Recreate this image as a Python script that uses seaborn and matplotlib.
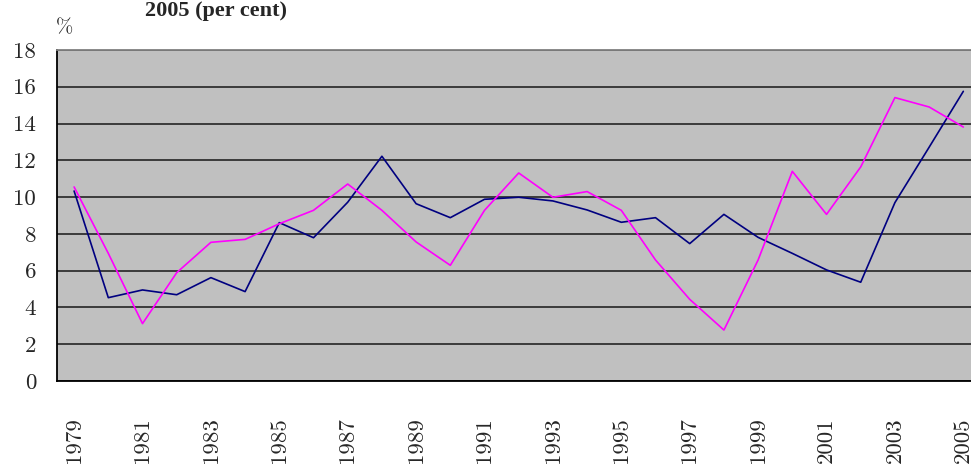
import matplotlib
matplotlib.use('Agg')
import matplotlib.pyplot as plt
import pandas as pd
import seaborn as sns
from matplotlib.ticker import FixedLocator

years = list(range(1979, 2006))
navy_values = [10.33, 4.53, 4.95, 4.69, 5.62, 4.86, 8.61, 7.79, 9.72, 12.22,
               9.64, 8.88, 9.88, 9.99, 9.79, 9.30, 8.63, 8.88, 7.47, 9.06,
               7.81, 6.94, 6.04, 5.37, 9.70, 12.71, 15.75]
magenta_values = [10.55, 6.94, 3.12, 5.89, 7.54, 7.70, 8.55, 9.28, 10.71, 9.28,
                  7.56, 6.29, 9.28, 11.31, 9.99, 10.30, 9.28, 6.58, 4.44, 2.77,
                  6.58, 11.40, 9.06, 11.64, 15.41, 14.90, 13.81]
y_ticks = [0, 2, 4, 6, 8, 10, 12, 14, 16, 18]
x_labels = [y for y in years if y % 2 == 1]

df = pd.DataFrame({
    'year': years * 2,
    'value': navy_values + magenta_values,
    'series': ['navy'] * len(years) + ['magenta'] * len(years),
})

sns.set_style('white', {'axes.facecolor': '#c0c0c0'})
plt.rcParams['font.family'] = ['cmr10', 'DejaVu Serif']

fig = plt.figure(figsize=(9.71, 4.70), dpi=100)
ax = fig.add_axes([0.0587, 0.1894, 0.951, 0.7043])

sns.lineplot(data=df, x='year', y='value', hue='series',
             palette={'navy': '#000080', 'magenta': '#ff00ff'},
             linewidth=1.2, legend=False, ax=ax)

ax.set_xlim(1978.5, 2005.5)
ax.set_ylim(0, 18)
ax.set_yticks(y_ticks)
ax.set_yticklabels([str(v) for v in y_ticks], fontsize=16.5)
ax.yaxis.grid(True, color='#303030', linewidth=1.3)
ax.set_axisbelow(True)

ax.set_xticks(x_labels)
ax.set_xticklabels([str(v) for v in x_labels], rotation=90, fontsize=16.5)
ax.xaxis.set_minor_locator(FixedLocator([y - 0.5 for y in years]))
ax.tick_params(axis='x', which='major', length=0, pad=26)
ax.tick_params(axis='x', which='minor', direction='in', length=6, width=1, color='black')
ax.tick_params(axis='y', which='major', direction='out', length=3, width=1, pad=12, color='black')

ax.set_xlabel('')
ax.set_ylabel('')
for side in ['left', 'bottom']:
    ax.spines[side].set_color('black')
    ax.spines[side].set_linewidth(1.3)
ax.spines['top'].set_color('#808080')
ax.spines['top'].set_linewidth(1.3)
ax.spines['right'].set_visible(False)

fig.text(0.058, 0.94, '%', fontsize=15, ha='left', va='center')
fig.text(0.222, 0.976, '2005 (per cent)', fontsize=16, fontweight='bold',
         family='Liberation Serif', ha='center', va='center')

fig.savefig('out.png', dpi=100)
